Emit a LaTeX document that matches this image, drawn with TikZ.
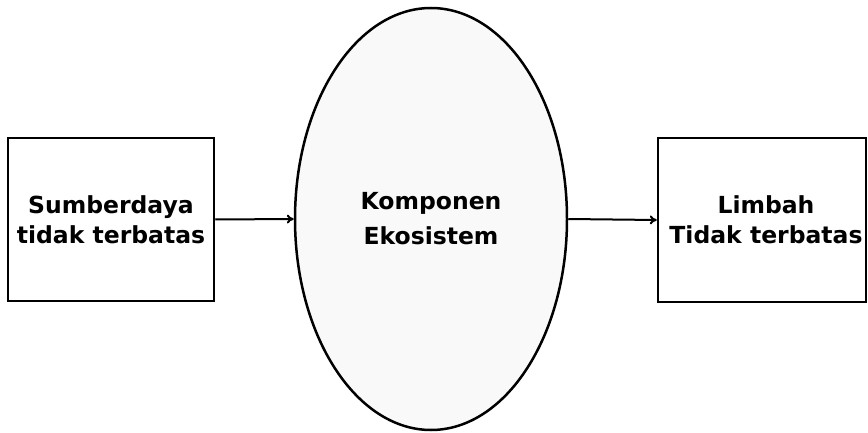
\documentclass[tikz,border=0pt]{standalone}
\usepackage{fontspec}
\setmainfont{DejaVu Sans}
\usetikzlibrary{shapes.geometric,arrows.meta}
\begin{document}
\begin{tikzpicture}[x=1pt,y=-1pt,
  lbl/.style={font=\bfseries\fontsize{23.5}{30}\selectfont,align=center},
  box/.style={draw,line width=2.5pt,inner sep=0pt,lbl},
  flow/.style={draw,line width=2pt,-{To[length=7pt,width=9pt]}}]
\useasboundingbox (0,0) rectangle (868,433);
\node[box,minimum width=206pt,minimum height=163pt] (src) at (111,219.5) {Sumberdaya\\tidak terbatas};
\node[box,minimum width=208pt,minimum height=164pt] (waste) at (762,220) {};
\node[lbl] (wastetxt) at (766,220) {Limbah\\Tidak terbatas};
\node[draw,ellipse,line width=2.5pt,fill=gray!5,inner sep=0pt,minimum width=272pt,minimum height=422pt,font=\bfseries\fontsize{23.5}{35}\selectfont,align=center] (eco) at (431,219) {Komponen\\Ekosistem};
\draw[flow] (src.east) -- (eco.west);
\draw[flow] (eco.east) -- (waste.west);
\end{tikzpicture}
\end{document}
